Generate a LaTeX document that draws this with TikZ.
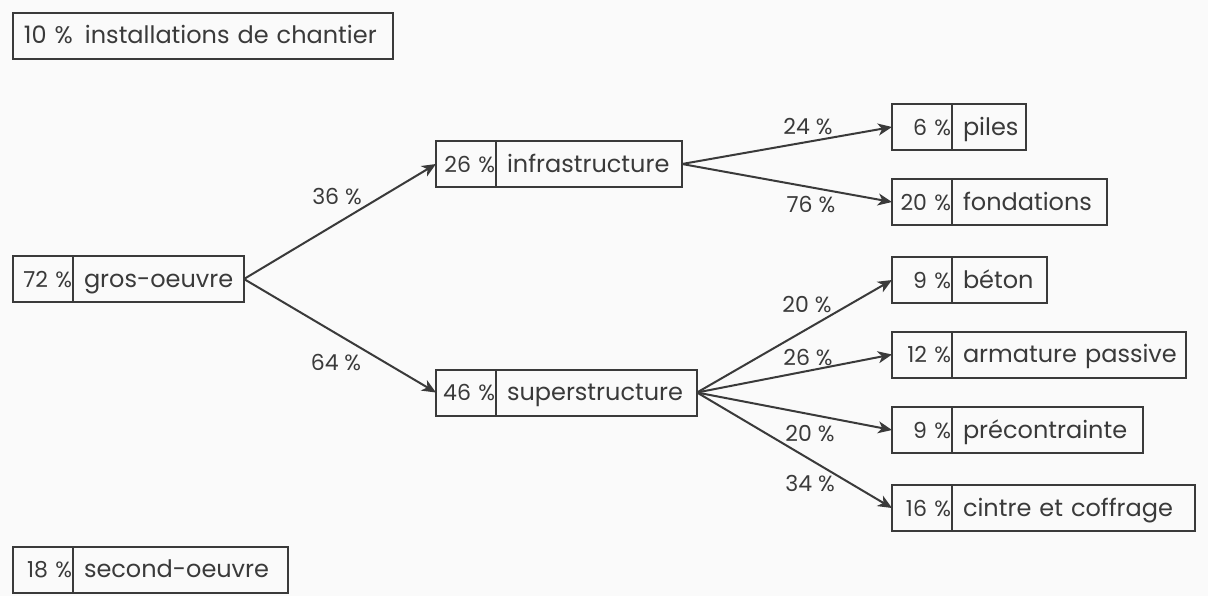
\documentclass[tikz,border=0pt]{standalone}
\usepackage{fontspec}
\setmainfont{Poppins}
\usepackage{tikz}
\usetikzlibrary{arrows.meta}

\definecolor{ink}{HTML}{3A3A3A}
\definecolor{paper}{HTML}{FAFAFA}

\tikzset{
  pct/.style={draw=ink, text=ink, anchor=west, minimum height=23pt, outer sep=0pt,
    text width=29pt, align=right, inner xsep=0.5pt, inner ysep=0pt,
    text height=10pt, text depth=2pt, font=\fontsize{11}{13}\selectfont},
  lbl/.style={draw=ink, text=ink, anchor=west, minimum height=23pt, outer sep=0pt,
    text width=#1, align=left, inner xsep=5.5pt, inner ysep=0pt,
    text height=10pt, text depth=2pt},
  share/.style={text=ink, inner sep=0pt, font=\fontsize{11}{13}\selectfont},
  flow/.style={draw=ink, -{Stealth[length=7pt, width=6pt, inset=2pt]}}
}

\begin{document}
\hyphenpenalty=10000\relax
\exhyphenpenalty=10000\relax
\begin{tikzpicture}[x=0.5pt, y=-0.5pt, line width=1pt, font=\fontsize{12}{14}\selectfont]
    % paper and margins
    \fill[paper] (0, 0) rectangle (1208, 596);
    \useasboundingbox (0, 0) rectangle (1208, 596);

    % boxes without a parent
    \node[lbl=179pt] (chantier) at (13, 35.5) {10~\%\enspace installations de chantier};
    \node[pct] (secondpct) at (13, 569.5) {18~\%};
    \node[lbl=96.5pt] (second) at (secondpct.east) {second-oeuvre};

    % gros-oeuvre and its two parts
    \node[pct] (grospct) at (13, 279) {72~\%};
    \node[lbl=74.5pt] (gros) at (grospct.east) {gros-oeuvre};
    \node[pct] (infrapct) at (436, 164) {26~\%};
    \node[lbl=82pt] (infra) at (infrapct.east) {infrastructure};
    \node[pct] (superpct) at (436, 392.5) {46~\%};
    \node[lbl=89.5pt] (super) at (superpct.east) {superstructure};

    % parts of the infrastructure
    \node[pct] (pilespct) at (892, 127) {6~\%};
    \node[lbl=26pt] (piles) at (pilespct.east) {piles};
    \node[pct] (fondpct) at (892, 202) {20~\%};
    \node[lbl=66.5pt] (fond) at (fondpct.east) {fondations};

    % parts of the superstructure
    \node[pct] (betonpct) at (892, 280) {9~\%};
    \node[lbl=36.5pt] (beton) at (betonpct.east) {béton};
    \node[pct] (armpct) at (892, 354.5) {12~\%};
    \node[lbl=106pt] (arm) at (armpct.east) {armature~passive};
    \node[pct] (precpct) at (892, 430) {9~\%};
    \node[lbl=84.5pt] (prec) at (precpct.east) {précontrainte};
    \node[pct] (cintrepct) at (892, 508) {16~\%};
    \node[lbl=110.5pt] (cintre) at (cintrepct.east) {cintre~et~coffrage};

    % arrows
    \draw[flow] (gros.east) -- (infrapct.west);
    \draw[flow] (gros.east) -- (superpct.west);
    \draw[flow] (infra.east) -- (pilespct.west);
    \draw[flow] (infra.east) -- (fondpct.west);
    \draw[flow] (super.east) -- (betonpct.west);
    \draw[flow] (super.east) -- (armpct.west);
    \draw[flow] (super.east) -- (precpct.west);
    \draw[flow] (super.east) -- (cintrepct.west);

    % shares on the arrows
    \node[share] (s36) at (337, 197) {36~\%};
    \node[share] (s64) at (336, 363) {64~\%};
    \node[share] (s24) at (808, 127) {24~\%};
    \node[share] (s76) at (811, 205) {76~\%};
    \node[share] (s20a) at (807, 305) {20~\%};
    \node[share] (s26) at (808, 358) {26~\%};
    \node[share] (s20b) at (810, 434) {20~\%};
    \node[share] (s34) at (810, 484) {34~\%};
\end{tikzpicture}
\end{document}
